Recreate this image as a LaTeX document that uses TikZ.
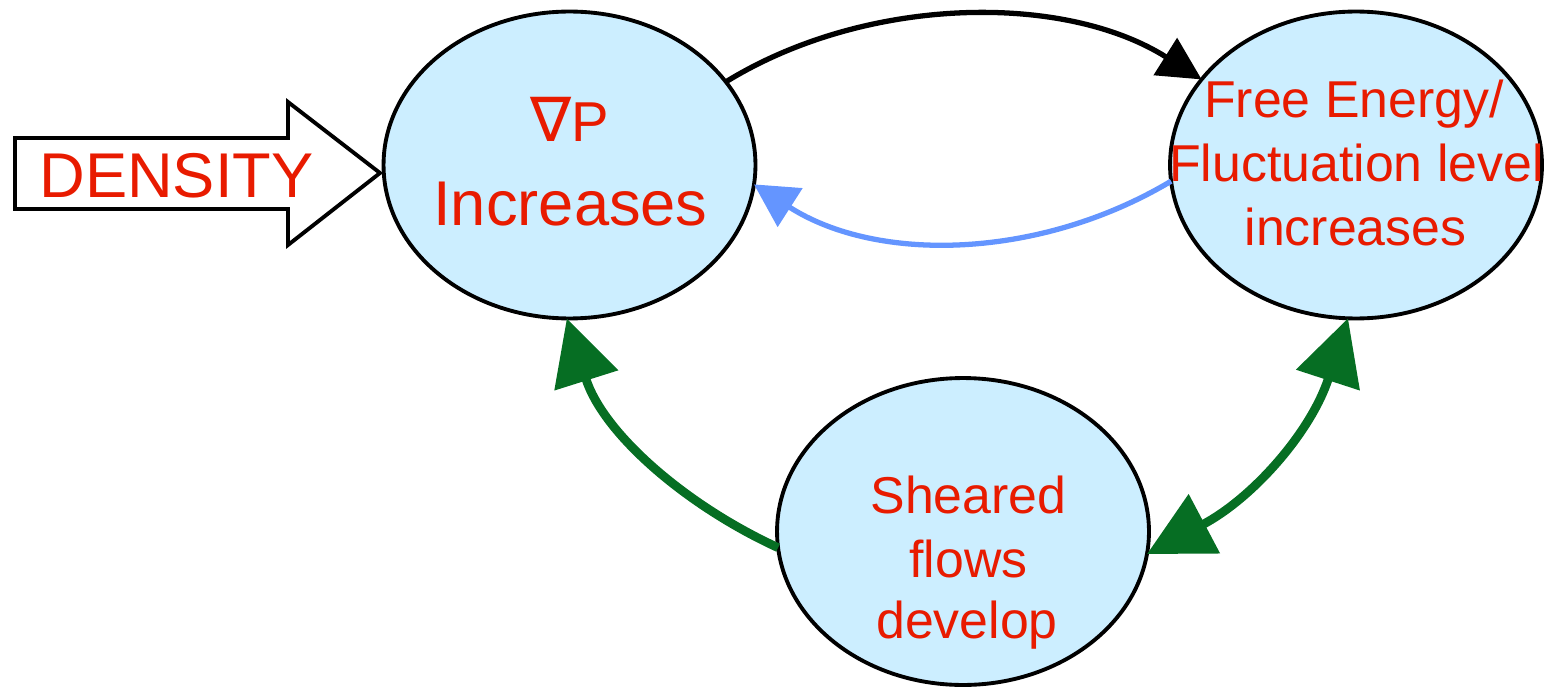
\documentclass[tikz,border=0pt]{standalone}
\usepackage{fontspec}
\setmainfont{Liberation Sans}
\newfontfamily\dejavu{DejaVu Sans}
\usetikzlibrary{shapes.geometric,arrows.meta}
\definecolor{bubblefill}{RGB}{204,238,255}
\definecolor{txtred}{RGB}{232,27,0}
\definecolor{fbblue}{RGB}{100,149,255}
\definecolor{fbgreen}{RGB}{6,110,35}
\begin{document}
\begin{tikzpicture}[x=0.02cm,y=-0.02cm,
  bubble/.style={ellipse, draw=black, line width=2.2pt, fill=bubblefill,
    minimum width=7.44cm, minimum height=6.14cm, inner sep=0pt, outer sep=0pt},
  lbl/.style={text=txtred, anchor=base, inner sep=0pt, font=\fontsize{29.5}{35}\selectfont},
  biglbl/.style={lbl, font=\fontsize{36}{42}\selectfont},
  blackarrow/.style={draw=black, line width=3pt, -{Triangle[length=0.86cm,width=0.86cm]}},
  bluearrow/.style={draw=fbblue, line width=3pt, -{Triangle[length=0.86cm,width=0.9cm]}},
  greenarrow/.style={draw=fbgreen, line width=5pt, -{Triangle[length=1.3cm,width=1.3cm]}},
  greenboth/.style={draw=fbgreen, line width=5pt, {Triangle[length=1.3cm,width=1.3cm]}-{Triangle[length=1.3cm,width=1.3cm]}},
  bigarrow/.style={draw=black, line width=2.2pt, fill=white, line join=miter}
]
\useasboundingbox (0,0) rectangle (1550,689);

% ellipses
\node[bubble] (A) at (569.5,165) {};
\node[bubble] (B) at (1356,165) {};
\node[bubble] (C) at (963,531.5) {};

% density block arrow
\draw[bigarrow] (15,138) -- (288,138) -- (288,102) -- (380,173) -- (288,245) -- (288,209) -- (15,209) -- cycle;
\node[biglbl] (dens) at (176.5,197) {DENSITY};

% connectors
\draw[blackarrow] (A.28) .. controls (865,-4) and (1063,-8) .. (B.151);
\draw[bluearrow] (B.185) .. controls (1041,259) and (878,264) .. (A.-6);
\draw[greenarrow] (C.185) .. controls (685,505) and (603,433) .. (A.-91);
\draw[greenboth] (C.-7) .. controls (1253,498) and (1311,432) .. (B.-93);

% labels
\node[lbl] (nablaP) at (570,142) {{\dejavu\fontsize{35}{40}\selectfont ∇}{\fontsize{32}{38}\selectfont P}};
\node[biglbl] (inc) at (570.5,225) {Increases};
\node[lbl] (fe) at (1354,118) {Free Energy/};
\node[lbl] (fl) at (1356.5,182) {Fluctuation level};
\node[lbl] (incr) at (1355.5,245) {increases};
\node[lbl] (sh) at (968.5,513) {Sheared};
\node[lbl] (fw) at (968.5,577) {flows};
\node[lbl] (dv) at (967,638) {develop};
\end{tikzpicture}
\end{document}
